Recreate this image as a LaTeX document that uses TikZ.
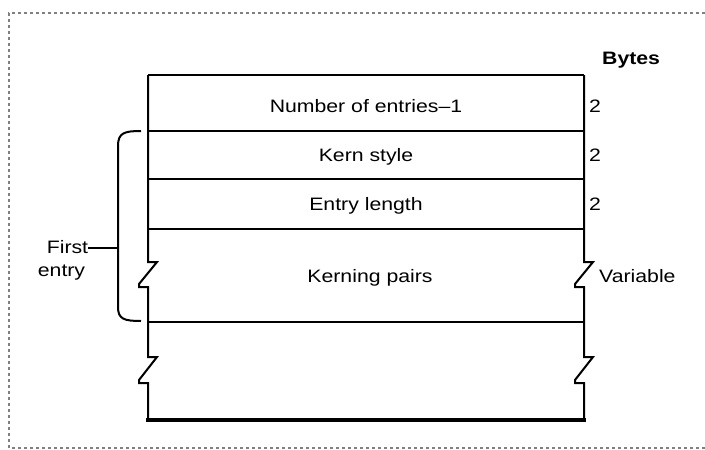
\documentclass[tikz,border=0pt]{standalone}
\usepackage{fontspec}
\newfontfamily\diafont[FakeStretch=1.18]{Liberation Sans}
\begin{document}
\begin{tikzpicture}[x=1pt,y=-1pt,
  lbl/.style={font=\diafont\fontsize{18}{21}\selectfont, inner sep=0pt, anchor=base},
  lblL/.style={lbl, anchor=base west},
  boxline/.style={line width=2pt, line join=miter},
  frameline/.style={gray, line width=1.2pt, dash pattern=on 3pt off 3pt}]
\useasboundingbox (0,0) rectangle (705,450);
% frame
\draw[frameline] (705,13) -- (9,13) -- (9,448) -- (705,448);
% box corners
\coordinate (tl) at (148,75);
\coordinate (tr) at (584,75);
\coordinate (bl) at (148,420);
\coordinate (br) at (584,420);
% outline
\draw[boxline] (tl) -- (tr);
\draw[boxline] (tl) -- (148,262) -- (157,262) -- (139,284) -- (139,287) -- (148,287)
  -- (148,357) -- (157,357) -- (139,380) -- (139,383) -- (148,383) -- (bl);
\draw[boxline] (tr) -- (584,262) -- (593,262) -- (575,284) -- (575,287) -- (584,287)
  -- (584,357) -- (593,357) -- (575,380) -- (575,383) -- (584,383) -- (br);
\draw[line width=4pt] (146,420) -- (586,420);
% row separators
\draw[boxline] (148,131) -- (584,131);
\draw[boxline] (148,179) -- (584,179);
\draw[boxline] (148,229) -- (584,229);
\draw[boxline] (148,322) -- (584,322);
% field labels
\node[lbl] (n1) at (366,112) {Number of entries–1};
\node[lbl] (n2) at (366,161) {Kern style};
\node[lbl] (n3) at (366,210) {Entry length};
\node[lbl] (n4) at (370,282) {Kerning pairs};
% bytes column
\node[lblL, font=\diafont\bfseries\fontsize{18}{21}\selectfont] (bytes) at (602,64) {Bytes};
\node[lblL] (b1) at (589,112) {2};
\node[lblL] (b2) at (589,161) {2};
\node[lblL] (b3) at (589,210) {2};
\node[lblL] (b4) at (599,282) {Variable};
% brace
\coordinate (bt) at (141,131);
\coordinate (bb) at (141,321);
\coordinate (bm) at (118,248);
\draw[line width=2pt] (bt) .. controls (124,131) and (118,133) .. (118,146)
  -- (118,307) .. controls (118,319) and (124,321) .. (bb);
\node[lbl] (first) at (67.5,253) {First};
\node[lbl] (entry) at (61.5,276) {entry};
\draw[line width=2pt] (first.east |- bm) -- (bm);
\end{tikzpicture}
\end{document}
